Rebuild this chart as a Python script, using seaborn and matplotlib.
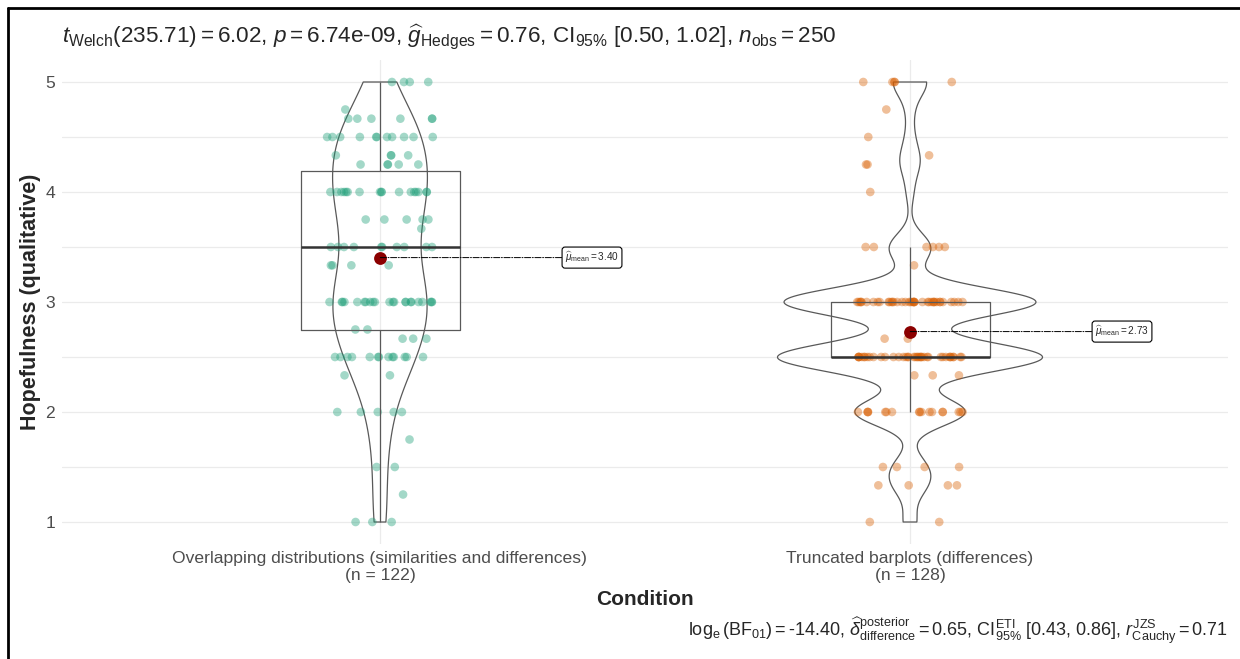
import numpy as np
import pandas as pd
import matplotlib
matplotlib.use("Agg")
import matplotlib.pyplot as plt
from matplotlib.lines import Line2D
import seaborn as sns

# Valores (nível da escala e quantas respostas em cada um)
grupos = ["Overlapping distributions (similarities and differences)",
          "Truncated barplots (differences)"]
niveis_sim = [5.0, 4.75, 14/3, 4.5, 13/3, 4.25, 4.0, 3.75, 11/3, 3.5, 10/3, 3.0,
              2.75, 8/3, 2.5, 7/3, 2.0, 1.75, 1.5, 1.25, 1.0]
contagem_sim = [4, 1, 6, 11, 4, 5, 17, 5, 1, 10, 4, 22,
                2, 3, 13, 2, 5, 1, 2, 1, 3]
niveis_trunc = [5.0, 4.75, 4.5, 13/3, 4.25, 4.0, 3.5, 10/3, 3.0,
                8/3, 2.5, 7/3, 2.0, 1.5, 4/3, 1.0]
contagem_trunc = [5, 1, 1, 1, 2, 1, 6, 1, 39,
                  2, 39, 3, 17, 4, 4, 2]
cores = ["#1B9E77", "#D95F02"]

titulo = (r"$t_{\mathrm{Welch}}(235.71) = 6.02$, $p = 6.74\mathrm{e}\text{-}09$, "
          r"$\widehat{g}_{\mathrm{Hedges}} = 0.76$, CI$_{95\%}$ [0.50, 1.02], "
          r"$n_{\mathrm{obs}} = 250$")
legenda = (r"$\log_{\mathrm{e}}(\mathrm{BF}_{01}) = $-14.40, "
           r"$\widehat{\delta}_{\mathrm{difference}}^{\mathrm{posterior}} = 0.65$, "
           r"CI$_{95\%}^{\mathrm{ETI}}$ [0.43, 0.86], "
           r"$r_{\mathrm{Cauchy}}^{\mathrm{JZS}} = 0.71$")

df = pd.DataFrame({
    "condicao": [grupos[0]] * sum(contagem_sim) + [grupos[1]] * sum(contagem_trunc),
    "valor": np.concatenate([np.repeat(niveis_sim, contagem_sim),
                             np.repeat(niveis_trunc, contagem_trunc)]),
})
ns = df.groupby("condicao")["valor"].size().reindex(grupos)
medias = df.groupby("condicao")["valor"].mean().reindex(grupos)


def bw_nrd0(kde):
    # largura de banda do R (nrd0), como no geom_violin
    x = kde.dataset[0]
    sd = np.std(x, ddof=1)
    iqr = np.subtract(*np.percentile(x, [75, 25]))
    h = 0.9 * min(sd, iqr / 1.34) * len(x) ** (-0.2)
    return h / sd


sns.set_style("white")
plt.rcParams["font.family"] = ["Liberation Sans", "DejaVu Sans"]
plt.rcParams["mathtext.fontset"] = "custom"
plt.rcParams["mathtext.rm"] = "Liberation Sans"
plt.rcParams["mathtext.it"] = "Liberation Sans:italic"
plt.rcParams["mathtext.bf"] = "Liberation Sans:bold"

fig = plt.figure(figsize=(12.4, 6.59), dpi=100)
ax = fig.add_axes([62 / 1240, 1 - 544 / 659, 1166 / 1240, 484 / 659])

# grade
for y in np.arange(1, 5.01, 0.5):
    ax.axhline(y, color="#EBEBEB", lw=0.9, zorder=0)
for x in [0, 1]:
    ax.axvline(x, color="#EBEBEB", lw=0.9, zorder=0)

sns.stripplot(data=df, x="condicao", y="valor", hue="condicao", order=grupos,
              hue_order=grupos, palette=cores, jitter=0.1, size=6.2, alpha=0.4,
              linewidth=0, legend=False, ax=ax, zorder=2)
sns.boxplot(data=df, x="condicao", y="valor", order=grupos, width=0.3, fill=False,
            color="0.35", linewidth=0.9, showfliers=False, showcaps=False,
            medianprops=dict(color="0.2", linewidth=1.8), ax=ax)
sns.violinplot(data=df, x="condicao", y="valor", order=grupos, width=0.5, fill=False,
               color="0.35", linewidth=0.9, inner=None, cut=0, gridsize=512,
               density_norm="area", bw_method=bw_nrd0, ax=ax)

for i, g in enumerate(grupos):
    m = medias[g]
    ax.scatter(i, m, s=85, color="darkred", zorder=5, linewidth=0)
    ax.annotate(r"$\widehat{\mu}_{\mathrm{mean}} = %.2f$" % m, xy=(i, m),
                xytext=(i + 0.40, m), ha="center", va="center", fontsize=7.2,
                arrowprops=dict(arrowstyle="-", linestyle="-.", lw=0.7, color="black",
                                shrinkA=0, shrinkB=0),
                bbox=dict(boxstyle="round,pad=0.3", fc="white", ec="black", lw=0.8),
                zorder=6)

ax.set_xlim(-0.6, 1.6)
ax.set_ylim(0.8, 5.2)
ax.set_yticks([1, 2, 3, 4, 5])
ax.set_xticks([0, 1])
ax.set_xticklabels([f"{g}\n(n = {ns[g]})" for g in grupos])
ax.tick_params(axis="both", labelsize=12.6, labelcolor="0.3", color="0.6",
               length=3, width=0.8, pad=2)
for s in ax.spines.values():
    s.set_visible(False)
ax.set_xlabel("Condition", fontsize=15, fontweight="bold", labelpad=5)
ax.set_ylabel("Hopefulness (qualitative)", fontsize=15.5, fontweight="bold", labelpad=3)

fig.text(62 / 1240, 1 - 37 / 659, titulo, fontsize=16.2, ha="left", va="center")
fig.text(1228 / 1240, 1 - 631 / 659, legenda, fontsize=13, ha="right", va="center")

# moldura da captura de tela
fig.add_artist(Line2D([8 / 1240, 8 / 1240], [0, 1 - 8 / 659], color="black", lw=2))
fig.add_artist(Line2D([8 / 1240, 1], [1 - 8 / 659, 1 - 8 / 659], color="black", lw=2))

fig.savefig("out.png", dpi=100)
